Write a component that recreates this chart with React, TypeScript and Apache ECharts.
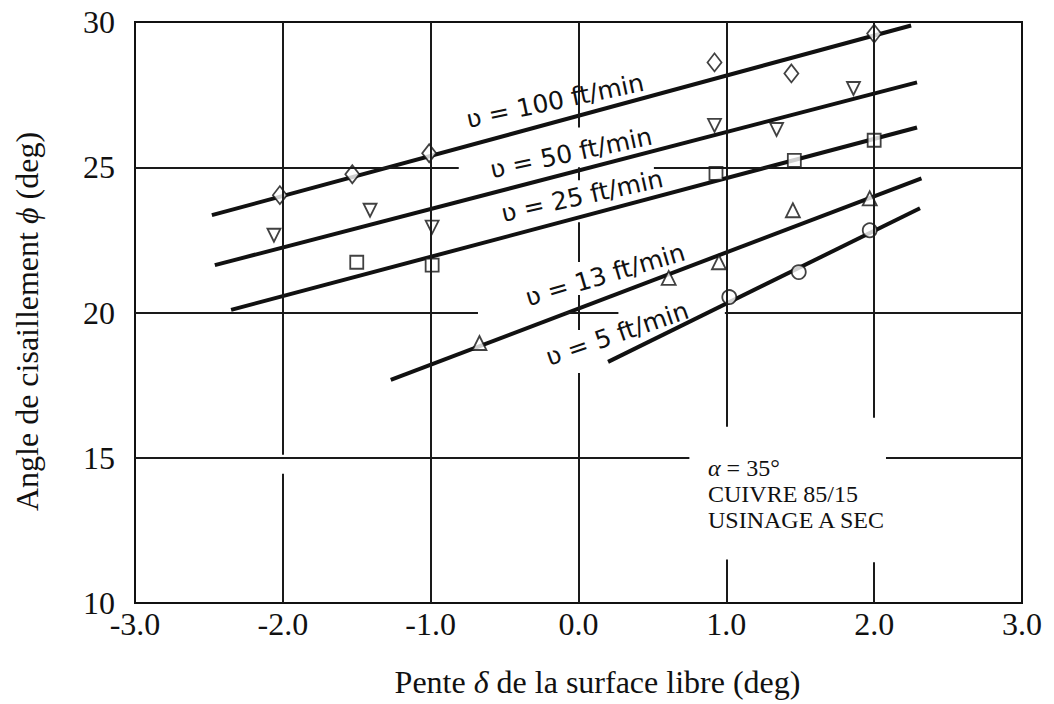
import React, { useEffect, useRef } from "react";
import * as echarts from "echarts";

// ---- Axis ranges / ticks ----
const xRange = [-3, 3];
const yRange = [10, 30];
const xStep = 1;
const yStep = 5;

// ---- Measured points (δ, φ) per cutting speed ----
const pts100 = [[-2.02, 24.04], [-1.53, 24.76], [-1.01, 25.48], [0.92, 28.61], [1.44, 28.23], [2.0, 29.6]];
const pts50 = [[-2.06, 22.66], [-1.41, 23.52], [-0.99, 22.94], [0.92, 26.44], [1.34, 26.3], [1.86, 27.71]];
const pts25 = [[-1.5, 21.73], [-0.99, 21.63], [0.93, 24.79], [1.46, 25.24], [2.0, 25.93]];
const pts13 = [[-0.67, 18.95], [0.61, 21.19], [0.95, 21.73], [1.45, 23.52], [1.97, 23.93]];
const pts5 = [[1.02, 20.53], [1.49, 21.39], [1.97, 22.83]];

// ---- Fitted straight lines (end points) ----
const fit100 = [[-2.48, 23.35], [2.25, 29.88]];
const fit50 = [[-2.46, 21.63], [2.29, 27.92]];
const fit25 = [[-2.35, 20.09], [2.29, 26.37]];
const fit13 = [[-1.27, 17.68], [2.32, 24.62]];
const fit5 = [[0.2, 18.3], [2.31, 23.59]];

const speedNames = ["ʋ = 100 ft/min", "ʋ = 50 ft/min", "ʋ = 25 ft/min", "ʋ = 13 ft/min", "ʋ = 5 ft/min"];

// ---- Grid line pieces (the scanned grid is interrupted behind the handwritten notes) ----
const hGrid = [
  { y: 25, spans: [[-3, -0.81], [0.51, 3]] },
  { y: 20, spans: [[-3, -0.68], [-0.09, 0.27], [0.99, 3]] },
  { y: 15, spans: [[-3, 0.75], [2.08, 3]] },
];
const vGrid = [
  { x: -2, spans: [[10, 14.45], [15.1, 30]] },
  { x: -1, spans: [[10, 30]] },
  { x: 0, spans: [[10, 17.92], [19.4, 20.6], [21.74, 23.11], [24.55, 25.0], [26.37, 30]] },
  { x: 1, spans: [[10, 11.5], [16.07, 30]] },
  { x: 2, spans: [[10, 11.4], [16.38, 30]] },
];

const noteLines = ["{i|α} = 35°", "CUIVRE 85/15", "USINAGE A SEC"];

const SERIF = "'Liberation Serif', 'Times New Roman', serif";
const HAND = "'DejaVu Sans', sans-serif";
const INK = "#111";

export default function App() {
  const ref = useRef<HTMLDivElement>(null);

  useEffect(() => {
    if (!ref.current) return;
    const chart = echarts.init(ref.current, null, { renderer: "svg" });

    const gridSegs: any[] = [];
    hGrid.forEach((g) =>
      g.spans.forEach((s) => gridSegs.push([{ coord: [s[0], g.y] }, { coord: [s[1], g.y] }]))
    );
    vGrid.forEach((g) =>
      g.spans.forEach((s) => gridSegs.push([{ coord: [g.x, s[0]] }, { coord: [g.x, s[1]] }]))
    );

    const fits = [fit100, fit50, fit25, fit13, fit5];
    const pts = [pts100, pts50, pts25, pts13, pts5];
    const symbols = ["diamond", "triangle", "rect", "triangle", "circle"];
    const rotates = [0, 180, 0, 0, 0];
    const sizes: any[] = [[14, 18], 13, 13, 14, 14];

    const series: any[] = [
      {
        type: "line",
        name: "grid",
        data: [],
        silent: true,
        z: 1,
        markLine: {
          silent: true,
          symbol: ["none", "none"],
          label: { show: false },
          lineStyle: { color: "#1a1a1a", width: 2, type: "solid" },
          emphasis: { disabled: true },
          data: gridSegs,
        },
      },
    ];
    fits.forEach((f, i) => {
      series.push({
        type: "line",
        name: speedNames[i],
        data: f,
        symbol: "none",
        z: 3,
        lineStyle: { color: INK, width: 4 },
      });
    });
    pts.forEach((p, i) => {
      series.push({
        type: "scatter",
        name: speedNames[i] + " pts",
        data: p,
        symbol: symbols[i],
        symbolRotate: rotates[i],
        symbolSize: sizes[i],
        z: 4,
        itemStyle: { color: "#fff", borderColor: INK, borderWidth: 1.8 },
      });
    });

    // handwritten line labels (pixel placement, rotated along the lines)
    const lineLabels = [
      { x: 555, y: 101, r: 12 },
      { x: 571, y: 153, r: 12 },
      { x: 582, y: 196, r: 12.5 },
      { x: 605, y: 275, r: 16.5 },
      { x: 617, y: 334, r: 19 },
    ];

    const graphic: any[] = lineLabels.map((l, i) => ({
      type: "text",
      x: l.x,
      y: l.y,
      rotation: (l.r * Math.PI) / 180,
      z: 10,
      style: {
        text: speedNames[i],
        fill: INK,
        font: `25px ${HAND}`,
        align: "center",
        verticalAlign: "middle",
      },
    }));
    noteLines.forEach((t, i) => {
      graphic.push({
        type: "text",
        x: 708,
        y: 468 + i * 26,
        z: 10,
        style: {
          text: t,
          fill: INK,
          fontSize: 24,
          fontFamily: SERIF,
          verticalAlign: "middle",
          align: "left",
          rich: {
            i: { fontStyle: "italic", fontSize: 24, fontFamily: SERIF, fill: INK },
          },
        },
      });
    });

    chart.setOption({
      animation: false,
      backgroundColor: "#fff",
      grid: {
        left: 135,
        right: 32,
        top: 22,
        bottom: 101,
        show: true,
        borderColor: INK,
        borderWidth: 2,
        backgroundColor: "transparent",
        containLabel: false,
        outerBoundsMode: "none",
      },
      xAxis: {
        type: "value",
        min: xRange[0],
        max: xRange[1],
        interval: xStep,
        name: "Pente {i|δ} de la surface libre (deg)",
        nameLocation: "middle",
        nameGap: 63,
        nameTextStyle: {
          fontSize: 32,
          fontFamily: SERIF,
          color: INK,
          padding: [0, 0, 0, 38],
          rich: { i: { fontStyle: "italic", fontSize: 32, fontFamily: SERIF, color: INK } },
        },
        axisLine: { show: true, onZero: false, lineStyle: { color: INK, width: 2 } },
        axisTick: { show: false },
        splitLine: { show: false },
        axisLabel: {
          fontSize: 32,
          fontFamily: SERIF,
          color: INK,
          margin: 5,
          formatter: (v: number) => v.toFixed(1),
        },
      },
      yAxis: {
        type: "value",
        min: yRange[0],
        max: yRange[1],
        interval: yStep,
        name: "Angle de cisaillement {i|ϕ} (deg)",
        nameLocation: "middle",
        nameGap: 92,
        nameTextStyle: {
          fontSize: 32,
          fontFamily: SERIF,
          color: INK,
          padding: [0, 18, 0, 0],
          rich: { i: { fontStyle: "italic", fontSize: 32, fontFamily: SERIF, color: INK } },
        },
        axisLine: { show: true, onZero: false, lineStyle: { color: INK, width: 2 } },
        axisTick: { show: false },
        splitLine: { show: false },
        axisLabel: { fontSize: 32, fontFamily: SERIF, color: INK, margin: 20 },
      },
      series,
      graphic,
    });

    return () => chart.dispose();
  }, []);

  return (
    <div
      ref={ref}
      style={{ position: "absolute", left: 0, top: 0, width: 1054, height: 704 }}
    />
  );
}
